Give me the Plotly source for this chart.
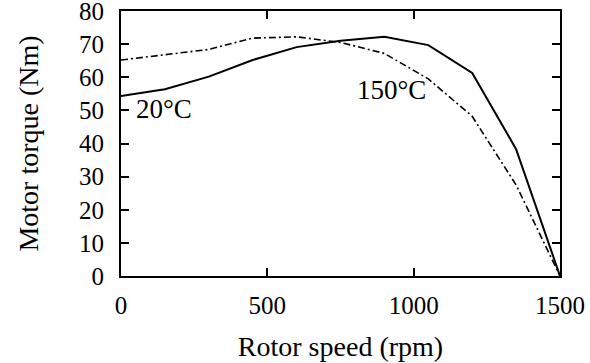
import plotly.graph_objects as go

speed = [0, 150, 300, 450, 600, 750, 900, 1050, 1200, 1350, 1500]
torque_20 = [54.3, 56.4, 60.2, 65.2, 69.1, 71.0, 72.2, 69.7, 61.3, 38.3, 0]
torque_150 = [65.2, 66.8, 68.4, 71.8, 72.2, 70.5, 67.2, 59.5, 48.2, 27.5, 0]

x_ticks = [0, 500, 1000, 1500]
y_ticks = [0, 10, 20, 30, 40, 50, 60, 70, 80]

FONT = "Liberation Serif, Times New Roman, serif"

fig = go.Figure()
fig.add_trace(go.Scatter(x=speed, y=torque_20, mode="lines",
                         line=dict(color="black", width=2), name="20°C"))
fig.add_trace(go.Scatter(x=speed, y=torque_150, mode="lines",
                         line=dict(color="black", width=1.6, dash="7px,3px,2px,3px"),
                         name="150°C"))

fig.add_annotation(x=0, y=50.5, xref="x", yref="y", text="20°C", showarrow=False,
                   xanchor="left", yanchor="middle", xshift=13,
                   font=dict(family=FONT, size=27, color="black"))
fig.add_annotation(x=800, y=56.2, xref="x", yref="y", text="150°C", showarrow=False,
                   xanchor="left", yanchor="middle",
                   font=dict(family=FONT, size=27, color="black"))

axis_common = dict(showgrid=False, zeroline=False, showline=True, linecolor="black",
                   linewidth=2, ticks="inside", ticklen=8, tickwidth=1.5,
                   tickcolor="black", mirror="allticks", ticklabeloverflow="allow",
                   automargin=False,
                   tickfont=dict(family=FONT, size=25, color="black"))

fig.update_xaxes(range=[0, 1500], tickvals=x_ticks, ticktext=[str(v) for v in x_ticks],
                 title=dict(text="Rotor speed (rpm)", font=dict(family=FONT, size=28, color="black"),
                            standoff=18),
                 ticklabelstandoff=6, **axis_common)
fig.update_yaxes(range=[0, 80], tickvals=y_ticks, ticktext=[str(v) for v in y_ticks],
                 title=dict(text="Motor torque (Nm)", font=dict(family=FONT, size=28, color="black"),
                            standoff=32),
                 ticklabelstandoff=10, **axis_common)

fig.update_layout(width=590, height=363, margin=dict(l=121, r=30, t=11, b=87),
                  paper_bgcolor="white", plot_bgcolor="white", showlegend=False,
                  font=dict(family=FONT, color="black"))

fig.write_html("out.html")
